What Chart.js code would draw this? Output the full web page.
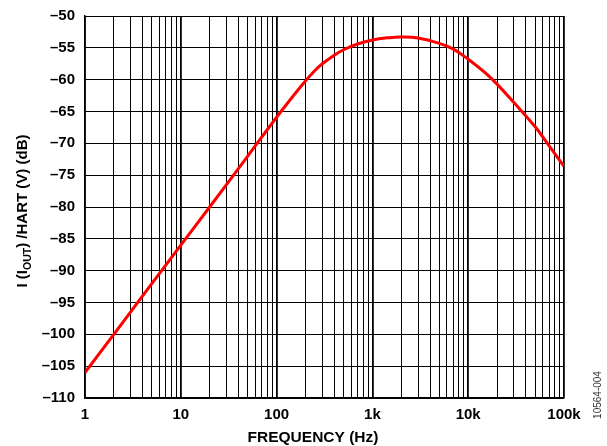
<!DOCTYPE html>
<html>
<head>
<meta charset="utf-8">
<script src="https://cdn.jsdelivr.net/npm/chart.js@4.4.0/dist/chart.umd.min.js"></script>
<style>
  html, body { margin: 0; padding: 0; background: #fff; }
  #wrap { width: 607px; height: 446px; }
</style>
</head>
<body>
<div id="wrap"><canvas id="chart" width="607" height="446"></canvas></div>
<script>
// values
const freqs = [1, 2, 5, 10, 20, 50, 100, 150, 200, 250, 300, 400, 500, 700, 1000, 1500, 2000, 3000, 5000, 7000, 10000, 15000, 20000, 30000, 50000, 70000, 100000];
const gains = [-106, -100, -92, -86, -80, -72, -65.9, -62.5, -60.2, -58.6, -57.5, -56.15, -55.3, -54.4, -53.76, -53.4, -53.3, -53.45, -54.3, -55.2, -56.8, -58.9, -60.7, -63.6, -67.4, -70.4, -73.6];
const yTicks = [-110, -105, -100, -95, -90, -85, -80, -75, -70, -65, -60, -55, -50];
const xLabels = { 1: "1", 10: "10", 100: "100", 1000: "1k", 10000: "10k", 100000: "100k" };

const FONT = "'Liberation Sans', Arial, sans-serif";

// all 1..9 x 10^n ticks for the log grid
const xTicks = [];
for (let d = 1; d <= 10000; d *= 10) {
  for (let m = 1; m < 10; m++) xTicks.push(m * d);
}
xTicks.push(100000);

const isDecade = (v) => Math.abs(Math.log10(v) - Math.round(Math.log10(v))) < 1e-9;

// axis titles, drawn by hand because of the subscript
const titles = {
  id: "titles",
  afterDraw(chart) {
    const ctx = chart.ctx;
    const a = chart.chartArea;
    ctx.save();
    ctx.fillStyle = "#000";
    ctx.font = "bold 15.5px " + FONT;
    ctx.textAlign = "center";
    ctx.textBaseline = "alphabetic";
    ctx.fillText("FREQUENCY (Hz)", 313, 442);

    // y title, rotated
    const big = "bold 15px " + FONT;
    const small = "bold 10.5px " + FONT;
    const parts = [["I (I", big, 0], ["OUT", small, 4], [") /HART (V) (dB)", big, 0]];
    let total = 0;
    parts.forEach(p => { ctx.font = p[1]; total += ctx.measureText(p[0]).width; });
    ctx.translate(27, (a.top + a.bottom) / 2 + 4);
    ctx.rotate(-Math.PI / 2);
    ctx.textAlign = "left";
    let x = -total / 2;
    parts.forEach(p => {
      ctx.font = p[1];
      ctx.fillText(p[0], x, p[2]);
      x += ctx.measureText(p[0]).width;
    });
    ctx.restore();

    // figure code at the right edge
    ctx.save();
    ctx.fillStyle = "#333";
    ctx.font = "10px " + FONT;
    ctx.translate(601, 395);
    ctx.rotate(-Math.PI / 2);
    ctx.textAlign = "center";
    ctx.fillText("10564-004", 0, 0);
    ctx.restore();
  }
};

const ctx = document.getElementById("chart").getContext("2d");
const chart = new Chart(ctx, {
  type: "line",
  data: {
    datasets: [{
      data: freqs.map((f, i) => ({ x: f, y: gains[i] })),
      borderColor: "#ff0000",
      borderWidth: 3,
      pointRadius: 0,
      fill: false,
      tension: 0.4
    }]
  },
  options: {
    responsive: false,
    animation: false,
    layout: { padding: { left: 0, right: 43, top: 16, bottom: 0 } },
    plugins: { legend: { display: false }, tooltip: { enabled: false } },
    scales: {
      x: {
        type: "logarithmic",
        min: 1,
        max: 100000,
        afterBuildTicks: (s) => { s.ticks = xTicks.map(v => ({ value: v })); },
        afterFit: (s) => { s.height = 48; s.paddingLeft = 0; s.paddingRight = 0; },
        ticks: {
          autoSkip: false,
          maxRotation: 0,
          padding: 8,
          color: "#000",
          font: { family: FONT, size: 15, weight: "bold" },
          callback: (v) => xLabels[v] || ""
        },
        grid: {
          color: "#000",
          lineWidth: (c) => (c.tick && isDecade(c.tick.value) ? 1.8 : 1),
          drawTicks: false
        },
        border: { color: "#000", width: 1.5 }
      },
      y: {
        min: -110,
        max: -50,
        afterBuildTicks: (s) => { s.ticks = yTicks.map(v => ({ value: v })); },
        afterFit: (s) => { s.width = 85; s.paddingTop = 0; s.paddingBottom = 0; },
        ticks: {
          padding: 10,
          color: "#000",
          font: { family: FONT, size: 15, weight: "bold" },
          callback: (v) => "\u2013" + Math.abs(v)
        },
        grid: { color: "#000", lineWidth: 1, drawTicks: false },
        border: { color: "#000", width: 1.5 }
      }
    }
  },
  plugins: [titles]
});
</script>
</body>
</html>
